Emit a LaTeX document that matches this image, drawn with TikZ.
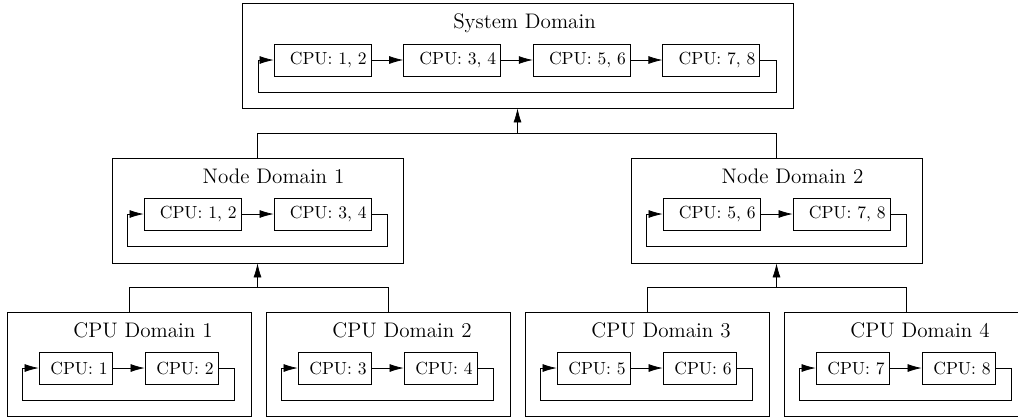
\documentclass[tikz,border=0pt]{standalone}
\usetikzlibrary{arrows.meta,calc}

\tikzset{
  cpu/.style={draw, minimum height=18.2pt, inner xsep=2.5pt, text width=#1, align=right},
  domain/.style={draw, minimum height=#1},
  domain/.default=59.8pt,
  title/.style={anchor=base, font=\large},
}

\begin{document}
\begin{tikzpicture}[x=0.57pt, y=0.57pt, >={Latex[length=8pt,width=4.5pt]}]

    \useasboundingbox (0,0) rectangle (1018,-417);

    % System Domain
    \node[domain, minimum width=314.1pt] (sys) at (517.5,-55.5) {};
    \node[title] (sysT) at (524.5,-28) {System Domain};
    \foreach \i/\a/\b in {1/1/2,2/3/4,3/5/6,4/7/8}
    \node[cpu=50.3pt] (S\i) at (192.9+129.6*\i,-60) {CPU: \a, \b};
    \foreach \i/\j in {1/2,2/3,3/4}
    \draw[->] (S\i) -- (S\j);
    \draw[->] (S4.east) -- ++(16,0) -- ++(0,-32) -| ($(S1.west)+(-15,0)$) -- (S1.west);

    % Node Domains
    \foreach \n/\x/\a/\b/\c/\d in {1/257.5/1/2/3/4, 2/776.5/5/6/7/8} {
        \node[domain, minimum width=165.9pt] (N\n) at (\x,-210.5) {};
        \node[title] (NT\n) at (\x+16,-183) {Node Domain \n};
        \node[cpu=50.3pt] (N\n-1) at (\x-65,-214) {CPU: \a, \b};
        \node[cpu=50.3pt] (N\n-2) at (\x+65,-214) {CPU: \c, \d};
        \draw[->] (N\n-1) -- (N\n-2);
        \draw[->] (N\n-2.east) -- ++(16,0) -- ++(0,-32) -| ($(N\n-1.west)+(-16,0)$) -- (N\n-1.west);
    }

    % CPU Domains
    \foreach \n in {1,2,3,4} {
        \pgfmathsetmacro\x{259*\n-130}
        \pgfmathtruncatemacro\a{2*\n-1}
        \pgfmathtruncatemacro\b{2*\n}
        \node[domain=59.3pt, minimum width=139pt] (C\n) at (\x,-364) {};
        \node[title] (CT\n) at (\x+14,-337) {CPU Domain \n};
        \node[cpu=36.6pt] (C\n-1) at (\x-53.5,-368) {CPU: \a};
        \node[cpu=36.6pt] (C\n-2) at (\x+52.5,-368) {CPU: \b};
        \draw[->] (C\n-1) -- (C\n-2);
        \draw[->] (C\n-2.east) -- ++(16,0) -- ++(0,-32) -| ($(C\n-1.west)+(-16,0)$) -- (C\n-1.west);
    }

    % Connect Levels
    \coordinate (J0) at ($(sys.south)+(0,-25)$);
    \draw (N1.north) |- (J0) -| (N2.north);
    \draw[->] (J0) -- (sys.south);

    \foreach \n/\i/\j in {1/1/2, 2/3/4} {
        \coordinate (J\n) at ($(N\n.south)+(0,-24)$);
        \draw (C\i.north) |- (J\n) -| (C\j.north);
        \draw[->] (J\n) -- (N\n.south);
    }

\end{tikzpicture}
\end{document}
